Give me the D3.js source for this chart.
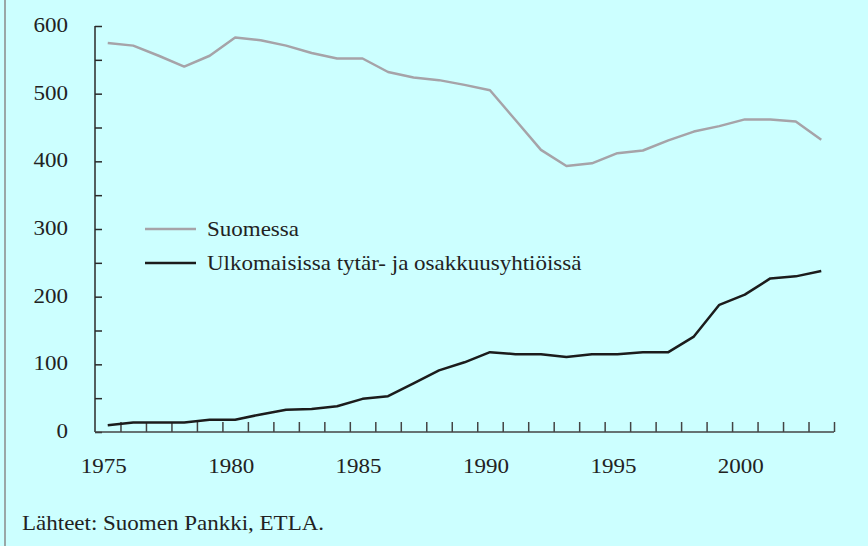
<!DOCTYPE html>
<html>
<head>
<meta charset="utf-8">
<script src="https://cdn.jsdelivr.net/npm/d3@7"></script>
<style>
  body { margin: 0; background: #ccffff; }
  svg { display: block; }
  text { font-family: "Liberation Serif", "Times New Roman", serif; fill: #222; font-size: 20px; }
</style>
</head>
<body>
<svg id="chart" width="868" height="546"></svg>
<script>
var years = d3.range(1975, 2004);
var suomessa = [575,571,556,540,556,583,579,571,560,552,552,532,524,520,513,505,461,417,393,397,412,416,431,444,452,462,462,459,432];
var ulkomailla = [10,14,14,14,18,18,26,33,34,38,49,53,72,91,103,118,115,115,111,115,115,118,118,141,188,203,227,230,238];
var yTicks = [0,100,200,300,400,500,600];
var xLabels = [1975,1980,1985,1990,1995,2000];
var legendLabels = ["Suomessa","Ulkomaisissa tytär- ja osakkuusyhtiöissä"];
var colors = ["#a6a3a8","#1c1c1c"];

var svg = d3.select("#chart");

// the original typeface is wider than Times, so stretch a bit
function label(px, py, txt, anchor) {
  return svg.append("text")
    .attr("transform","translate(" + px + "," + py + ") scale(1.15,1)")
    .attr("text-anchor", anchor || "start")
    .text(txt);
}

svg.append("rect").attr("width",868).attr("height",546).attr("fill","#ccffff");
// left border
svg.append("line").attr("x1",5).attr("x2",5).attr("y1",0).attr("y2",546)
  .attr("stroke","#8a8a8a").attr("stroke-width",1.5);

var x = d3.scaleLinear().domain([1974.5, 2003.5]).range([95, 834]);
var y = d3.scaleLinear().domain([0, 600]).range([432, 26]);

// y axis
var yAxis = d3.axisRight(y).tickValues(d3.range(0,601,50)).tickSize(7).tickFormat("");
var gy = svg.append("g").attr("transform","translate(95,0)").call(yAxis);
gy.select(".domain").attr("d","M0," + y(600) + "V" + y(0));
gy.selectAll("line, path").attr("stroke","#2a2a2a").attr("stroke-width",1.5);

yTicks.forEach(function(d) {
  label(68, y(d) + 6, d, "end");
});

// x axis
var xAxis = d3.axisTop(x).tickValues(d3.range(1975.5, 2004, 1)).tickSize(10).tickFormat("");
var gx = svg.append("g").attr("transform","translate(0,432)").call(xAxis);
gx.select(".domain").attr("d","M95,0H834");
gx.selectAll("line, path").attr("stroke","#444").attr("stroke-width",1.5);

xLabels.forEach(function(d) {
  label(x(d) - 4, 473, d, "middle");
});

// lines
var line = d3.line().x(function(d,i){ return x(years[i]); }).y(function(d){ return y(d); });
[suomessa, ulkomailla].forEach(function(s, k) {
  svg.append("path").datum(s)
    .attr("d", line)
    .attr("fill","none")
    .attr("stroke", colors[k])
    .attr("stroke-width", 2.5)
    .attr("stroke-linejoin","round");
});

// legend
var legY = [229, 263];
legendLabels.forEach(function(l, k) {
  svg.append("line").attr("x1",145).attr("x2",196)
    .attr("y1",legY[k]).attr("y2",legY[k])
    .attr("stroke",colors[k]).attr("stroke-width",2.5);
  label(207, legY[k] + 7, l);
});

label(22, 530, "Lähteet: Suomen Pankki, ETLA.");
</script>
</body>
</html>
